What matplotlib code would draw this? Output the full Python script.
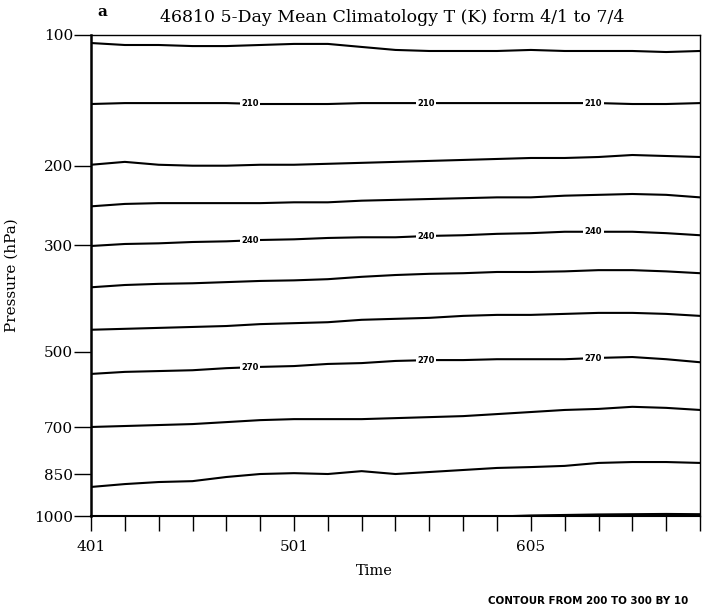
import numpy as np
import matplotlib.pyplot as plt

# pentad index 0..18 = 5-day means from 4/1 to 7/4
pentads = np.arange(19)
tick_pentads = [0, 6, 13]
tick_labels = ["401", "501", "605"]
p_ticks = [100, 200, 300, 500, 700, 850, 1000]

# pressure (hPa) of each isotherm at every pentad
t200 = [104.5, 105.6, 105.6, 106.2, 106.2, 105.6, 105.0, 105.0, 106.7, 108.4,
        109.0, 109.0, 109.0, 108.4, 109.0, 109.0, 109.0, 109.6, 109.0]
t210 = [144.3, 143.6, 143.6, 143.6, 143.6, 144.3, 144.3, 144.3, 143.6, 143.6,
        143.6, 143.6, 143.6, 143.6, 143.6, 143.6, 144.3, 144.3, 143.6]
t220 = [199, 196, 199, 200, 200, 199, 199, 198, 197, 196,
        195, 194, 193, 192, 192, 191, 189, 190, 191]
t230 = [246, 243, 242, 242, 242, 242, 241, 241, 239, 238,
        237, 236, 235, 235, 233, 232, 231, 232, 235]
t240 = [301, 298, 297, 295, 294, 292, 291, 289, 288, 288,
        286, 285, 283, 282, 280, 280, 280, 282, 285]
t250 = [367, 363, 361, 360, 358, 356, 355, 353, 349, 346,
        344, 343, 341, 341, 340, 338, 338, 340, 343]
t260 = [450, 448, 446, 444, 442, 438, 436, 434, 429, 427,
        425, 421, 419, 419, 417, 415, 415, 417, 421]
t270 = [552, 547, 545, 543, 538, 535, 533, 528, 526, 521,
        519, 519, 517, 517, 517, 514, 512, 517, 524]
t280 = [699, 696, 693, 690, 684, 678, 675, 675, 675, 672,
        669, 666, 660, 654, 648, 645, 639, 642, 648]
t290 = [893, 883, 876, 873, 859, 849, 846, 849, 839, 849,
        842, 835, 828, 825, 821, 811, 808, 808, 811]
t300 = [np.nan] * 11 + [1006, 1002, 998, 996, 994, 993, 992, 993]

levels = [200, 210, 220, 230, 240, 250, 260, 270, 280, 290, 300]
isotherms = [t200, t210, t220, t230, t240, t250, t260, t270, t280, t290, t300]
label_levels = [210, 240, 270]
label_pentads = [4.7, 9.9, 14.85]

# the vertical axis of the original is neither linear nor log in p;
# calibrate it through the tick positions (depth below 100 hPa, in px)
cal_logp = np.log10([31.6, 100, 200, 300, 500, 700, 850, 1000, 3162])
cal_depth = [-217.6, 0, 131.0, 210.6, 317.0, 392.6, 439.6, 481.3, 776.7]


def p_forward(p):
    return np.interp(np.log10(np.clip(p, 1, None)), cal_logp, cal_depth)


def p_inverse(d):
    return 10 ** np.interp(d, cal_depth, cal_logp)


fig = plt.figure(figsize=(7.03, 6.09), dpi=100)
ax = fig.add_axes([91 / 703, 1 - 516 / 609, 609 / 703, 481.3 / 609])
ax.set_yscale("function", functions=(p_forward, p_inverse))

for lev, iso in zip(levels, isotherms):
    ax.plot(pentads, iso, color="black", lw=1.5, zorder=2)

for lev in label_levels:
    iso = isotherms[levels.index(lev)]
    for xp in label_pentads:
        yp = np.interp(xp, pentads, iso)
        ax.text(xp, yp, str(lev), ha="center", va="center", fontsize=6,
                fontweight="bold", family="DejaVu Sans", zorder=3,
                bbox=dict(facecolor="white", edgecolor="none", pad=1.2))

ax.set_xlim(0, 18)
ax.set_ylim(1000, 100)

ax.set_yticks(p_ticks)
ax.set_yticklabels([str(p) for p in p_ticks])
ax.yaxis.set_minor_locator(plt.NullLocator())
ax.set_xticks(pentads)
ax.set_xticklabels([tick_labels[tick_pentads.index(k)] if k in tick_pentads else ""
                    for k in pentads])

ax.tick_params(axis="y", direction="out", length=12, width=1, pad=1,
               labelsize=11, labelfontfamily="DejaVu Serif")
ax.tick_params(axis="x", direction="out", length=11, width=1, pad=6,
               labelsize=11, labelfontfamily="DejaVu Serif")

ax.spines["left"].set_linewidth(1.8)
ax.spines["bottom"].set_linewidth(1.5)
ax.spines["top"].set_linewidth(1.0)
ax.spines["right"].set_linewidth(1.0)

ax.set_xlabel("Time", family="DejaVu Serif", fontsize=10.5)
ax.xaxis.set_label_coords(0.466, -0.1)
ax.set_ylabel("Pressure (hPa)", family="DejaVu Serif", fontsize=11)
ax.yaxis.set_label_coords(-0.118, 0.5)

fig.text(392 / 703, 1 - 18 / 609, "46810 5-Day Mean Climatology T (K) form 4/1 to 7/4",
         ha="center", va="center", family="DejaVu Serif", fontsize=12.5)
fig.text(102 / 703, 1 - 12 / 609, "a", ha="center", va="center",
         family="DejaVu Serif", fontsize=11, fontweight="bold")
fig.text(688 / 703, 1 - 601 / 609, "CONTOUR FROM 200 TO 300 BY 10",
         ha="right", va="center", family="DejaVu Sans", fontsize=7.4,
         fontweight="bold")

fig.savefig("out.png", dpi=100)
